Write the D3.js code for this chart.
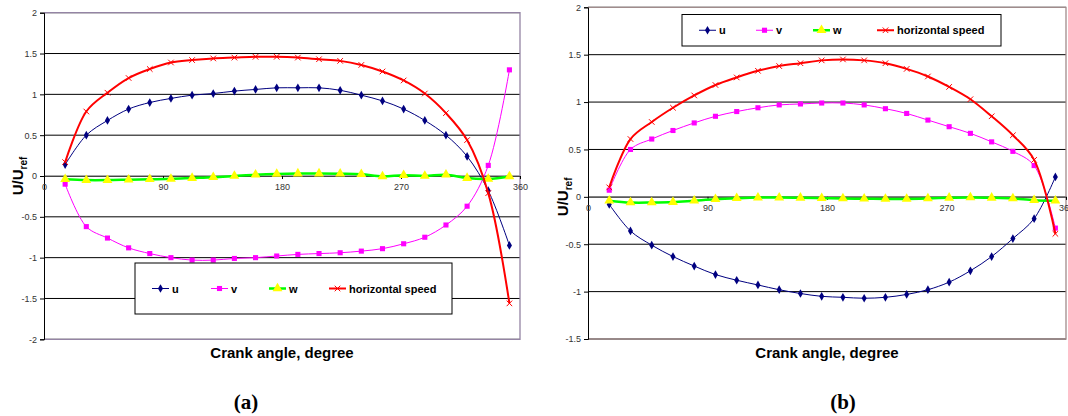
<!DOCTYPE html>
<html>
<head>
<meta charset="utf-8">
<script src="https://cdn.jsdelivr.net/npm/d3@7"></script>
<style>
  body { margin: 0; background: #fff; }
  svg { display: block; font-family: "Liberation Sans", Arial, sans-serif; }
</style>
</head>
<body>
<svg id="chart" width="1068" height="416"></svg>
<script>
/** Measured points, crank angle in degrees */
var angles = [16, 32, 48, 64, 80, 96, 112, 128, 144, 160, 176, 192, 208, 224, 240, 256, 272, 288, 304, 320, 336, 352];

// panel (a)
var uA  = [0.14, 0.50, 0.68, 0.82, 0.90, 0.95, 0.99, 1.01, 1.04, 1.06, 1.08, 1.08, 1.08, 1.05, 0.99, 0.92, 0.82, 0.68, 0.50, 0.24, -0.18, -0.85];
var vA  = [-0.10, -0.62, -0.76, -0.88, -0.95, -1.00, -1.03, -1.03, -1.01, -1.00, -0.98, -0.96, -0.95, -0.94, -0.92, -0.89, -0.83, -0.75, -0.60, -0.37, 0.13, 1.30];
var wA  = [-0.04, -0.05, -0.05, -0.045, -0.04, -0.035, -0.025, -0.015, 0.0, 0.015, 0.025, 0.03, 0.03, 0.028, 0.022, -0.005, 0.01, 0.0, 0.015, -0.025, -0.035, -0.005];
var hsA = [0.17, 0.79, 1.02, 1.20, 1.31, 1.39, 1.42, 1.44, 1.45, 1.46, 1.46, 1.45, 1.43, 1.41, 1.36, 1.28, 1.17, 1.01, 0.77, 0.44, -0.21, -1.56];

// panel (b)
var uB  = [-0.08, -0.36, -0.51, -0.63, -0.73, -0.82, -0.88, -0.93, -0.98, -1.02, -1.05, -1.06, -1.07, -1.06, -1.03, -0.98, -0.90, -0.78, -0.63, -0.44, -0.23, 0.21];
var vB  = [0.07, 0.50, 0.61, 0.70, 0.78, 0.85, 0.90, 0.94, 0.97, 0.98, 0.99, 0.99, 0.97, 0.93, 0.88, 0.81, 0.74, 0.67, 0.58, 0.48, 0.33, -0.33];
var wB  = [-0.04, -0.06, -0.06, -0.055, -0.04, -0.025, -0.015, -0.008, -0.008, -0.01, -0.014, -0.017, -0.02, -0.022, -0.022, -0.017, -0.01, -0.007, -0.01, -0.017, -0.035, -0.04];
var hsB = [0.10, 0.61, 0.79, 0.94, 1.07, 1.18, 1.26, 1.33, 1.38, 1.41, 1.44, 1.45, 1.44, 1.41, 1.35, 1.27, 1.16, 1.03, 0.85, 0.65, 0.39, -0.39];

var seriesNames = ["u", "v", "w", "horizontal speed"];
var xTicks  = [0, 90, 180, 270, 360];
var yTicksA = [-2, -1.5, -1, -0.5, 0, 0.5, 1, 1.5, 2];
var yTicksB = [-1.5, -1, -0.5, 0, 0.5, 1, 1.5, 2];
var panelLabels = ["(a)", "(b)"];

/** Look of each series: line colour/width and marker */
var styles = [
  { line: "#000080", width: 1,   symbol: d3.symbolDiamond,  size: 22, fill: "#000080", stroke: "none" },
  { line: "#ff00ff", width: 1,   symbol: d3.symbolSquare,   size: 26, fill: "#ff00ff", stroke: "none" },
  { line: "#00ff00", width: 2.5, symbol: d3.symbolTriangle, size: 42, fill: "#ffff00", stroke: "none" },
  { line: "#ff0000", width: 2,   symbol: d3.symbolTimes,    size: 22, fill: "none",    stroke: "#ff0000" }
];

var svg = d3.select("#chart");

drawPanel({
  left: 44, top: 12.7, width: 476, height: 326.6,
  yDomain: [-2, 2], yTicks: yTicksA,
  series: [uA, vA, wA, hsA],
  border: "#9484a4",
  legend: { x: 135, y: 263, w: 317, h: 51, items: [152, 211, 269, 329] },
  yLabelX: 18,
  label: panelLabels[0], labelX: 246
});

drawPanel({
  left: 588, top: 7.3, width: 478, height: 331.7,
  yDomain: [-1.5, 2], yTicks: yTicksB,
  series: [uB, vB, wB, hsB],
  border: "#a08c8c",
  legend: { x: 682, y: 14.5, w: 319, h: 31.5, items: [699, 756, 813, 877] },
  yLabelX: 563,
  label: panelLabels[1], labelX: 843
});

function drawPanel(p) {
  var g = svg.append("g")
      .attr("transform", "translate(" + p.left + "," + p.top + ")");

  var x = d3.scaleLinear().domain([0, 360]).range([0, p.width]);
  var y = d3.scaleLinear().domain(p.yDomain).range([p.height, 0]);

  // horizontal gridlines
  g.append("g")
    .selectAll("line")
    .data(p.yTicks)
    .enter().append("line")
    .attr("x1", 0).attr("x2", p.width)
    .attr("y1", function(d) { return y(d); })
    .attr("y2", function(d) { return y(d); })
    .attr("stroke", function(d) { return d === 0 ? "#555" : "#000"; })
    .attr("stroke-width", 1);

  // plot area frame (top, right, bottom)
  g.append("path")
    .attr("d", "M0,0H" + p.width + "V" + p.height + "H0")
    .attr("fill", "none")
    .attr("stroke", p.border)
    .attr("stroke-width", 1.3);

  // y axis
  var yAxis = g.append("g")
    .call(d3.axisLeft(y).tickValues(p.yTicks).tickSize(4).tickPadding(3)
      .tickFormat(function(d) { return String(d); }));
  yAxis.select(".domain").attr("stroke", "#000");
  yAxis.selectAll("text").attr("font-size", 9).attr("fill", "#333")
    .attr("font-family", "Liberation Sans, Arial, sans-serif");

  // x axis along y = 0
  var xAxis = g.append("g")
    .attr("transform", "translate(0," + y(0) + ")")
    .call(d3.axisBottom(x).tickValues(xTicks).tickSize(3).tickPadding(5)
      .tickFormat(function(d) { return String(d); }));
  xAxis.select(".domain").attr("stroke", "#444");
  xAxis.selectAll("text").attr("font-size", 9).attr("fill", "#333")
    .attr("font-family", "Liberation Sans, Arial, sans-serif");

  var line = d3.line()
    .x(function(d) { return x(d.a); })
    .y(function(d) { return y(d.v); })
    .curve(d3.curveCatmullRom.alpha(0.5));

  p.series.forEach(function(vals, i) {
    var st = styles[i];
    var pts = vals.map(function(v, k) { return { a: angles[k], v: v }; });

    g.append("path")
      .datum(pts)
      .attr("fill", "none")
      .attr("stroke", st.line)
      .attr("stroke-width", st.width)
      .attr("stroke-linejoin", "round")
      .attr("d", line);

    g.append("g")
      .selectAll("path")
      .data(pts)
      .enter().append("path")
      .attr("transform", function(d) { return "translate(" + x(d.a) + "," + y(d.v) + ")"; })
      .attr("d", d3.symbol().type(st.symbol).size(st.size))
      .attr("fill", st.fill)
      .attr("stroke", st.stroke)
      .attr("stroke-width", 1);
  });

  // legend box
  var lg = svg.append("g");
  lg.append("rect")
    .attr("x", p.legend.x).attr("y", p.legend.y)
    .attr("width", p.legend.w).attr("height", p.legend.h)
    .attr("fill", "#fff").attr("stroke", "#000").attr("stroke-width", 1);

  var cy = p.legend.y + p.legend.h / 2;
  seriesNames.forEach(function(name, i) {
    var st = styles[i];
    var lx = p.legend.items[i];
    lg.append("line")
      .attr("x1", lx).attr("x2", lx + 17)
      .attr("y1", cy).attr("y2", cy)
      .attr("stroke", st.line).attr("stroke-width", st.width);
    lg.append("path")
      .attr("transform", "translate(" + (lx + 8.5) + "," + cy + ")")
      .attr("d", d3.symbol().type(st.symbol).size(st.size))
      .attr("fill", st.fill).attr("stroke", st.stroke);
    lg.append("text")
      .attr("x", lx + 20).attr("y", cy + 4)
      .attr("font-size", 11).attr("font-weight", "bold")
      .text(name);
  });

  // axis titles
  svg.append("text")
    .attr("x", p.left + p.width / 2).attr("y", 358)
    .attr("text-anchor", "middle")
    .attr("font-size", 15).attr("font-weight", "bold")
    .text("Crank angle, degree");

  var yl = svg.append("text")
    .attr("transform", "translate(" + (p.yLabelX + 5) + "," + (p.top + y(0)) + ") rotate(-90)")
    .attr("text-anchor", "middle")
    .attr("font-size", 15).attr("font-weight", "bold");
  yl.append("tspan").text("U/U");
  yl.append("tspan").attr("font-size", 10).attr("dy", 4).text("ref");

  svg.append("text")
    .attr("x", p.labelX).attr("y", 409)
    .attr("text-anchor", "middle")
    .attr("font-family", "Liberation Serif, Times New Roman, serif")
    .attr("font-size", 21).attr("font-weight", "bold")
    .text(p.label);
}
</script>
</body>
</html>
